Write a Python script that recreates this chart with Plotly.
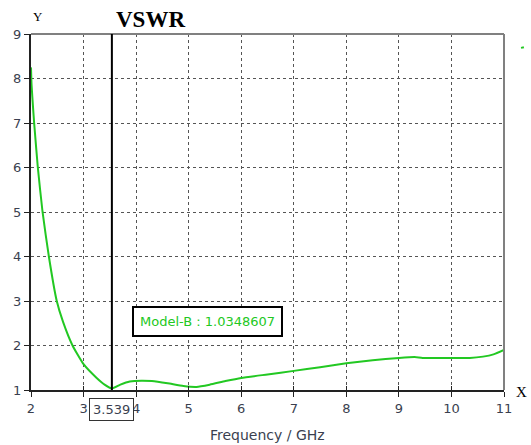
import plotly.graph_objects as go

freq = [2.0, 2.01, 2.04, 2.06, 2.13, 2.22, 2.34, 2.49, 2.61, 2.79, 3.0,
        3.25, 3.4, 3.539,
        3.7, 3.88, 4.1, 4.3, 4.6, 4.9, 5.15, 5.4, 5.7, 6.0, 6.5, 7.0, 7.5, 8.0, 8.5,
        9.0, 9.3, 9.45, 10.0, 10.35, 10.6, 10.8, 11.0]
vswr = [8.25, 7.87, 7.33, 7.0, 6.0, 5.0, 4.0, 3.0, 2.53, 2.0, 1.58,
        1.27, 1.12, 1.035,
        1.12, 1.19, 1.21, 1.2, 1.15, 1.09, 1.07, 1.12, 1.2, 1.27, 1.35, 1.43, 1.51, 1.6, 1.67,
        1.72, 1.74, 1.72, 1.72, 1.72, 1.75, 1.8, 1.9]

marker_x = 3.539
marker_label = "3.539"
marker_text = "Model-B : 1.0348607"
x_ticks = [2, 3, 4, 5, 6, 7, 8, 9, 10, 11]
y_ticks = [1, 2, 3, 4, 5, 6, 7, 8, 9]

green = "rgb(34,200,34)"
tickfont = dict(family="DejaVu Sans", size=13, color="#3a3f4f")

fig = go.Figure()
fig.add_trace(go.Scatter(x=freq, y=vswr, mode="lines",
                         line=dict(color=green, width=2, shape="spline", smoothing=0.5),
                         showlegend=False, hoverinfo="skip"))

fig.update_layout(
    width=531, height=445,
    margin=dict(l=31, r=27, t=34, b=55),
    paper_bgcolor="white", plot_bgcolor="white",
    xaxis=dict(range=[2, 11], tickvals=x_ticks, ticks="outside", ticklen=5, tickcolor="#222",
               showline=True, linecolor="#222", linewidth=2,
               showgrid=True, gridcolor="#555", griddash="3px,3px", gridwidth=1,
               zeroline=False, tickfont=tickfont),
    yaxis=dict(range=[1, 9], tickvals=y_ticks, ticks="outside", ticklen=5, tickcolor="#222",
               showline=True, linecolor="#222", linewidth=2,
               showgrid=True, gridcolor="#555", griddash="3px,3px", gridwidth=1,
               zeroline=False, tickfont=tickfont),
    xaxis2=dict(range=[2, 11], tickvals=x_ticks, ticks="inside", ticklen=4, tickcolor="#222",
                showticklabels=False, overlaying="x", side="bottom", showgrid=False,
                zeroline=False, showline=False, anchor="y"),
)

fig.add_trace(go.Scatter(x=[2, 11], y=[1, 1], xaxis="x2", mode="lines",
                         line=dict(width=0), showlegend=False, hoverinfo="skip"))

fig.add_shape(type="line", xref="paper", yref="paper", x0=0, x1=1, y0=1, y1=1,
              line=dict(color="#808080", width=2))
fig.add_shape(type="line", xref="paper", yref="paper", x0=1, x1=1, y0=0, y1=1,
              line=dict(color="#808080", width=2))

fig.add_shape(type="line", xref="x", yref="y", x0=marker_x, x1=marker_x, y0=1, y1=9,
              line=dict(color="black", width=2))

fig.add_shape(type="line", xref="paper", yref="paper", x0=1.036, x1=1.042, y0=0.961, y1=0.963,
              line=dict(color=green, width=2))

annotations = [
    dict(text="<b>VSWR</b>", x=0.252, y=1.04, xref="paper", yref="paper", showarrow=False,
         font=dict(family="Liberation Serif", size=23, color="black"), xanchor="center", yanchor="middle"),
    dict(text="Y", x=0.015, y=1.048, xref="paper", yref="paper", showarrow=False,
         font=dict(family="Liberation Serif", size=13, color="black"), xanchor="center", yanchor="middle"),
    dict(text="X", x=1.038, y=-0.006, xref="paper", yref="paper", showarrow=False,
         font=dict(family="Liberation Serif", size=15, color="black"), xanchor="center", yanchor="middle"),
    dict(text="Frequency / GHz", x=0.499, y=-0.126, xref="paper", yref="paper", showarrow=False,
         font=dict(family="DejaVu Sans", size=14, color="#3a3f4f"), xanchor="center", yanchor="middle"),
    dict(text=marker_label, x=marker_x, y=-0.055, xref="x", yref="paper", showarrow=False,
         font=dict(family="DejaVu Sans", size=13, color="#3a3f4f"), xanchor="center", yanchor="middle",
         bgcolor="white", bordercolor="#333", borderwidth=1, borderpad=3),
    dict(text=marker_text, x=5.35, y=2.55, xref="x", yref="y", showarrow=False,
         font=dict(family="DejaVu Sans", size=13, color=green), xanchor="center", yanchor="middle",
         bgcolor="white", bordercolor="black", borderwidth=2, borderpad=6),
]
fig.update_layout(annotations=annotations)

fig.write_html("out.html")
